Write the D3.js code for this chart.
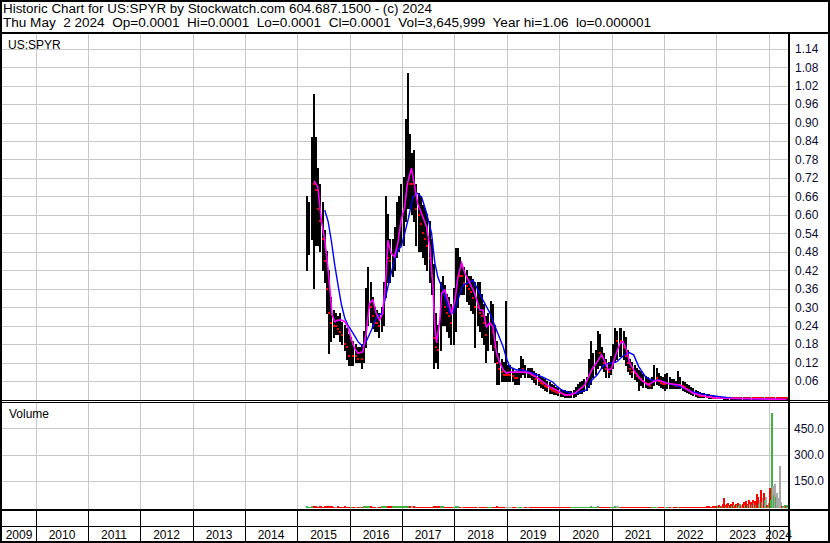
<!DOCTYPE html>
<html><head><meta charset="utf-8">
<script src="https://cdn.jsdelivr.net/npm/d3@7/dist/d3.min.js"></script>
<style>
html,body{margin:0;padding:0;background:#fff;}
svg{display:block;}
text{font-family:"Liberation Sans",Arial,sans-serif;}
</style></head><body>
<svg id="c" width="830" height="543"></svg>
<script>
// ---------------- DATA ----------------
const headerLine1 = "Historic Chart for US:SPYR by Stockwatch.com 604.687.1500 - (c) 2024";
const headerLine2 = "Thu May  2 2024  Op=0.0001  Hi=0.0001  Lo=0.0001  Cl=0.0001  Vol=3,645,999  Year hi=1.06  lo=0.000001";
const symbolLabel = "US:SPYR";
const volumeLabel = "Volume";
const priceTicks = [0.06,0.12,0.18,0.24,0.30,0.36,0.42,0.48,0.54,0.60,0.66,0.72,0.78,0.84,0.90,0.96,1.02,1.08,1.14];
const volTicks = [150,300,450];
const yearLabels = ["2009","2010","2011","2012","2013","2014","2015","2016","2017","2018","2019","2020","2021","2022","2023","2024"];

const dates = [
"2015-03-01","2015-03-16","2015-04-01","2015-04-16","2015-05-01","2015-05-16","2015-06-01","2015-06-16","2015-07-01","2015-07-16","2015-08-01","2015-08-16","2015-09-01","2015-09-16","2015-10-01","2015-10-16","2015-11-01","2015-11-16","2015-12-01","2015-12-16",
"2016-01-01","2016-01-16","2016-02-01","2016-02-16","2016-03-01","2016-03-16","2016-04-01","2016-04-16","2016-05-01","2016-05-16","2016-06-01","2016-06-16","2016-07-01","2016-07-16","2016-08-01","2016-08-16","2016-09-01","2016-09-16","2016-10-01","2016-10-16","2016-11-01","2016-11-16","2016-12-01","2016-12-16",
"2017-01-01","2017-01-16","2017-02-01","2017-02-16","2017-03-01","2017-03-16","2017-04-01","2017-04-16","2017-05-01","2017-05-16","2017-06-01","2017-06-16","2017-07-01","2017-07-16","2017-08-01","2017-08-16","2017-09-01","2017-09-16","2017-10-01","2017-10-16","2017-11-01","2017-11-16","2017-12-01","2017-12-16",
"2018-01-01","2018-01-16","2018-02-01","2018-02-16","2018-03-01","2018-03-16","2018-04-01","2018-04-16","2018-05-01","2018-05-16","2018-06-01","2018-06-16","2018-07-01","2018-07-16","2018-08-01","2018-08-16","2018-09-01","2018-09-16","2018-10-01","2018-10-16","2018-11-01","2018-11-16","2018-12-01","2018-12-16",
"2019-01-01","2019-01-16","2019-02-01","2019-02-16","2019-03-01","2019-03-16","2019-04-01","2019-04-16","2019-05-01","2019-05-16","2019-06-01","2019-06-16","2019-07-01","2019-07-16","2019-08-01","2019-08-16","2019-09-01","2019-09-16","2019-10-01","2019-10-16","2019-11-01","2019-11-16","2019-12-01","2019-12-16",
"2020-01-01","2020-01-16","2020-02-01","2020-02-16","2020-03-01","2020-03-16","2020-04-01","2020-04-16","2020-05-01","2020-05-16","2020-06-01","2020-06-16","2020-07-01","2020-07-16","2020-08-01","2020-08-16","2020-09-01","2020-09-16","2020-10-01","2020-10-16","2020-11-01","2020-11-16","2020-12-01","2020-12-16",
"2021-01-01","2021-01-16","2021-02-01","2021-02-16","2021-03-01","2021-03-16","2021-04-01","2021-04-16","2021-05-01","2021-05-16","2021-06-01","2021-06-16","2021-07-01","2021-07-16","2021-08-01","2021-08-16","2021-09-01","2021-09-16","2021-10-01","2021-10-16","2021-11-01","2021-11-16","2021-12-01","2021-12-16",
"2022-01-01","2022-01-16","2022-02-01","2022-02-16","2022-03-01","2022-03-16","2022-04-01","2022-04-16","2022-05-01","2022-05-16","2022-06-01","2022-06-16","2022-07-01","2022-07-16","2022-08-01","2022-08-16","2022-09-01","2022-09-16","2022-10-01","2022-10-16","2022-11-01","2022-11-16","2022-12-01","2022-12-16",
"2023-01-01","2023-01-16","2023-02-01","2023-02-16","2023-03-01","2023-03-16","2023-04-01","2023-04-16","2023-05-01","2023-05-16","2023-06-01","2023-06-16","2023-07-01","2023-07-16","2023-08-01","2023-08-16","2023-09-01","2023-09-16","2023-10-01","2023-10-16","2023-11-01","2023-11-16","2023-12-01","2023-12-16",
"2024-01-01","2024-01-16","2024-02-01","2024-02-16","2024-03-01","2024-03-16","2024-04-01","2024-04-16","2024-05-01"];

const high = [
0.66,0.64,0.85,0.99,0.85,0.75,0.70,0.64,0.55,0.48,0.42,0.33,0.29,0.28,0.27,0.28,0.25,0.24,0.23,0.21,
0.20,0.19,0.18,0.17,0.17,0.18,0.22,0.36,0.43,0.38,0.33,0.30,0.29,0.28,0.30,0.38,0.66,0.60,0.52,0.52,0.56,0.64,0.66,0.70,
0.72,0.91,1.06,0.86,0.80,0.81,0.70,0.67,0.66,0.63,0.62,0.60,0.58,0.52,0.44,0.28,0.24,0.38,0.40,0.37,0.34,0.33,0.31,0.36,
0.49,0.49,0.46,0.44,0.43,0.42,0.40,0.40,0.39,0.38,0.38,0.38,0.34,0.31,0.27,0.28,0.32,0.31,0.24,0.19,0.15,0.13,0.12,0.32,
0.11,0.11,0.10,0.09,0.09,0.10,0.14,0.13,0.11,0.10,0.10,0.10,0.09,0.085,0.08,0.075,0.07,0.065,0.06,0.055,0.05,0.045,0.04,0.035,
0.032,0.03,0.028,0.026,0.025,0.025,0.03,0.04,0.05,0.055,0.06,0.065,0.07,0.13,0.19,0.15,0.16,0.22,0.21,0.17,0.15,0.13,0.12,0.14,
0.18,0.23,0.22,0.23,0.23,0.22,0.20,0.16,0.13,0.12,0.11,0.10,0.095,0.09,0.08,0.075,0.07,0.065,0.07,0.11,0.10,0.085,0.075,0.07,
0.08,0.085,0.07,0.065,0.065,0.06,0.09,0.07,0.06,0.055,0.05,0.045,0.04,0.035,0.03,0.026,0.022,0.02,0.018,0.016,0.015,0.013,0.012,0.011,
0.010,0.009,0.008,0.007,0.006,0.006,0.005,0.005,0.004,0.004,0.0035,0.003,0.003,0.0025,0.002,0.002,0.0018,0.0015,0.0012,0.001,0.001,0.0008,0.0006,0.0005,
0.0003,0.0002,0.0002,0.0001,0.0001,0.0001,0.0001,0.0001,0.0001];

const low = [
0.42,0.47,0.52,0.36,0.50,0.50,0.48,0.42,0.38,0.28,0.15,0.19,0.20,0.21,0.21,0.19,0.18,0.16,0.13,0.11,
0.11,0.11,0.12,0.12,0.12,0.10,0.12,0.17,0.24,0.25,0.23,0.22,0.22,0.20,0.22,0.24,0.33,0.38,0.38,0.40,0.42,0.46,0.48,0.50,
0.50,0.58,0.62,0.62,0.60,0.58,0.50,0.48,0.48,0.46,0.44,0.42,0.38,0.34,0.10,0.12,0.10,0.16,0.24,0.24,0.22,0.20,0.18,0.18,
0.22,0.30,0.34,0.34,0.34,0.32,0.31,0.29,0.28,0.17,0.24,0.22,0.20,0.18,0.12,0.16,0.18,0.16,0.12,0.05,0.05,0.06,0.06,0.06,
0.06,0.06,0.06,0.05,0.05,0.05,0.07,0.08,0.07,0.07,0.07,0.065,0.055,0.05,0.045,0.04,0.035,0.03,0.025,0.02,0.02,0.015,0.015,0.012,
0.01,0.01,0.008,0.007,0.006,0.006,0.008,0.01,0.015,0.02,0.02,0.025,0.03,0.04,0.05,0.07,0.08,0.10,0.11,0.10,0.09,0.07,0.07,0.08,
0.10,0.12,0.13,0.14,0.14,0.13,0.11,0.09,0.08,0.07,0.065,0.06,0.03,0.045,0.04,0.04,0.035,0.035,0.035,0.045,0.05,0.045,0.04,0.035,
0.03,0.035,0.035,0.035,0.035,0.035,0.035,0.035,0.03,0.025,0.022,0.02,0.016,0.013,0.01,0.008,0.007,0.006,0.005,0.005,0.004,0.004,0.003,0.003,
0.002,0.002,0.002,0.0015,0.0015,0.001,0.001,0.001,0.001,0.0008,0.0008,0.0006,0.0005,0.0005,0.0004,0.0003,0.0003,0.0002,0.0002,0.0001,0.0001,0.0001,0.0001,0.0001,
0.0001,0.0001,0.0001,0.0001,0.0001,0.0001,0.0001,0.0001,0.0001];

const close = [
0.58,0.60,0.78,0.70,0.68,0.62,0.58,0.52,0.45,0.36,0.28,0.25,0.24,0.24,0.23,0.22,0.21,0.18,0.17,0.14,
0.15,0.14,0.14,0.13,0.14,0.13,0.19,0.30,0.33,0.30,0.27,0.25,0.25,0.24,0.27,0.34,0.50,0.46,0.45,0.47,0.50,0.54,0.58,0.62,
0.66,0.80,0.84,0.70,0.70,0.66,0.62,0.60,0.57,0.54,0.52,0.50,0.46,0.40,0.20,0.17,0.16,0.32,0.33,0.30,0.28,0.27,0.25,0.28,
0.40,0.42,0.40,0.40,0.38,0.37,0.36,0.35,0.33,0.30,0.30,0.28,0.27,0.25,0.21,0.23,0.25,0.22,0.17,0.12,0.10,0.09,0.08,0.08,
0.08,0.08,0.075,0.07,0.07,0.08,0.10,0.10,0.09,0.09,0.085,0.08,0.075,0.065,0.06,0.055,0.05,0.045,0.04,0.035,0.03,0.028,0.025,0.022,
0.02,0.018,0.016,0.015,0.014,0.015,0.018,0.025,0.03,0.035,0.04,0.045,0.05,0.08,0.11,0.12,0.13,0.16,0.15,0.14,0.12,0.10,0.09,0.11,
0.15,0.19,0.19,0.20,0.19,0.17,0.14,0.12,0.10,0.09,0.085,0.075,0.07,0.065,0.06,0.055,0.05,0.045,0.05,0.07,0.07,0.06,0.055,0.05,
0.05,0.055,0.05,0.05,0.048,0.045,0.05,0.048,0.045,0.04,0.035,0.03,0.026,0.022,0.018,0.015,0.012,0.011,0.01,0.009,0.008,0.007,0.006,0.005,
0.004,0.004,0.003,0.003,0.003,0.0025,0.002,0.002,0.002,0.0015,0.0015,0.0012,0.001,0.001,0.0008,0.0007,0.0006,0.0005,0.0004,0.0003,0.0003,0.0002,0.0002,0.0002,
0.0001,0.0001,0.0001,0.0001,0.0001,0.0001,0.0001,0.0001,0.0001];

// short moving average (magenta)
const maShortDates = ["2015-04-24","2015-05-21","2015-06-15","2015-07-08","2015-08-01","2015-08-19","2015-08-28","2015-09-16","2015-10-09","2015-11-02","2015-11-25","2015-12-17","2016-01-10","2016-02-02","2016-02-25","2016-03-30","2016-04-22","2016-05-16","2016-06-08","2016-07-01","2016-07-24","2016-08-16","2016-09-09","2016-09-21","2016-10-13","2016-11-06","2016-11-29","2016-12-22","2017-01-16","2017-02-03","2017-03-04","2017-03-27","2017-04-17","2017-05-22","2017-06-17","2017-07-10","2017-08-01","2017-08-14","2017-08-26","2017-09-18","2017-10-01","2017-10-23","2017-11-13","2017-12-09","2018-01-02","2018-01-22","2018-02-17","2018-03-11","2018-04-15","2018-05-19","2018-06-24","2018-07-16","2018-08-09","2018-09-02","2018-09-23","2018-10-18","2018-11-11","2018-12-04","2018-12-27","2019-01-19","2019-03-06","2019-04-19","2019-06-07","2019-07-23","2019-09-06","2019-10-25","2019-12-11","2020-02-08","2020-03-13","2020-04-16","2020-06-25","2020-08-12","2020-09-27","2020-10-20","2020-11-13","2020-12-06","2020-12-29","2021-01-22","2021-02-26","2021-03-19","2021-04-12","2021-05-05","2021-06-09","2021-07-25","2021-09-10","2021-10-15","2021-11-19","2022-01-18","2022-04-20","2022-07-20","2022-10-21","2023-01-24","2024-05-02"];
const maShort = [0.71,0.69,0.58,0.52,0.42,0.33,0.275,0.253,0.258,0.258,0.253,0.235,0.195,0.165,0.15,0.155,0.215,0.313,0.323,0.28,0.258,0.28,0.41,0.518,0.475,0.464,0.508,0.583,0.627,0.70,0.752,0.69,0.636,0.594,0.562,0.496,0.366,0.236,0.184,0.258,0.346,0.356,0.323,0.281,0.323,0.398,0.444,0.411,0.378,0.346,0.291,0.291,0.236,0.249,0.236,0.151,0.119,0.096,0.086,0.089,0.089,0.089,0.086,0.073,0.057,0.041,0.031,0.015,0.015,0.02,0.047,0.096,0.128,0.145,0.123,0.096,0.10,0.139,0.183,0.188,0.161,0.118,0.09,0.063,0.047,0.058,0.063,0.053,0.047,0.02,0.009,0.004,0.0001];

// long moving average (blue)
const maLongDates = ["2015-07-08","2015-08-01","2015-08-24","2015-09-16","2015-10-09","2015-11-02","2015-11-25","2015-12-17","2016-01-22","2016-02-25","2016-03-30","2016-04-22","2016-05-29","2016-07-01","2016-08-07","2016-08-31","2016-09-21","2016-10-13","2016-11-06","2016-11-29","2016-12-22","2017-01-16","2017-02-08","2017-03-14","2017-04-11","2017-05-14","2017-06-17","2017-07-22","2017-08-14","2017-09-04","2017-10-01","2017-11-04","2017-11-27","2017-12-21","2018-01-22","2018-02-26","2018-04-15","2018-05-08","2018-05-31","2018-07-16","2018-09-02","2018-10-18","2018-12-04","2018-12-27","2019-01-19","2019-03-06","2019-04-21","2019-06-27","2019-09-06","2019-11-14","2019-12-19","2020-01-14","2020-03-24","2020-04-28","2020-07-06","2020-08-12","2020-09-20","2020-11-03","2020-12-20","2021-02-04","2021-03-12","2021-04-27","2021-06-01","2021-07-06","2021-08-22","2021-10-07","2021-11-23","2022-01-18","2022-04-20","2022-07-20","2022-10-21","2023-01-24","2023-04-26","2024-05-02"];
const maLong = [0.616,0.578,0.513,0.437,0.372,0.307,0.264,0.242,0.215,0.188,0.172,0.188,0.226,0.264,0.28,0.323,0.366,0.41,0.453,0.486,0.497,0.54,0.583,0.658,0.671,0.658,0.606,0.541,0.444,0.398,0.366,0.314,0.281,0.281,0.323,0.372,0.382,0.388,0.366,0.323,0.281,0.226,0.171,0.133,0.106,0.096,0.096,0.086,0.073,0.057,0.041,0.031,0.02,0.02,0.031,0.063,0.08,0.112,0.118,0.123,0.139,0.153,0.145,0.107,0.074,0.062,0.062,0.053,0.042,0.025,0.015,0.009,0.004,0.0005];

// volume 2015-03 .. 2022-12, aligned with dates
const volEarly = [
6,5,7,8,6,5,6,5,6,7,8,6,5,5,6,5,5,6,5,5,
5,5,4,5,5,5,6,8,7,6,5,5,5,5,6,7,9,7,6,6,6,7,7,6,
7,8,9,7,6,6,5,5,5,5,5,5,5,5,8,6,6,7,6,5,5,5,5,5,
6,6,5,5,5,5,5,5,5,5,5,5,5,5,5,5,5,5,5,6,5,5,5,5,
5,4,4,4,4,4,5,4,4,4,4,4,4,4,4,4,4,4,4,4,4,4,4,4,
4,4,4,4,4,4,4,4,4,4,4,4,4,5,6,5,5,6,5,5,4,4,4,4,
5,6,6,5,5,5,5,4,4,4,4,4,4,4,4,4,4,4,4,5,5,4,4,4,
4,5,4,4,4,4,5,4,4,4,4,5,4,4,4,4,4,5,4,6,8,5,6,7];

// volume 2023-2024, weekly
const volRecentDates = ["2023-01-05","2023-01-12","2023-01-19","2023-01-26","2023-02-02","2023-02-09","2023-02-16","2023-02-23","2023-03-02","2023-03-09","2023-03-16","2023-03-23","2023-03-30","2023-04-06","2023-04-13","2023-04-20","2023-04-27","2023-05-04","2023-05-11","2023-05-18","2023-05-25","2023-06-01","2023-06-08","2023-06-15","2023-06-22","2023-06-29","2023-07-06","2023-07-13","2023-07-20","2023-07-27","2023-08-03","2023-08-10","2023-08-17","2023-08-24","2023-08-31","2023-09-07","2023-09-14","2023-09-21","2023-09-28","2023-10-05","2023-10-12","2023-10-19","2023-10-26","2023-11-02","2023-11-09","2023-11-16","2023-11-23","2023-11-30","2023-12-07","2023-12-14","2023-12-21","2023-12-28","2024-01-04","2024-01-11","2024-01-18","2024-01-25","2024-02-01","2024-02-08","2024-02-15","2024-02-22","2024-03-01","2024-03-08","2024-03-15","2024-03-22","2024-03-29","2024-04-05","2024-04-12","2024-04-19","2024-04-26","2024-05-02"];
const volRecent = [8,12,5,10,6,20,55,15,8,18,25,10,12,22,8,30,15,10,20,12,25,8,18,10,15,22,30,14,35,20,12,40,18,30,12,45,25,38,15,75,60,20,45,100,30,55,80,40,62,15,8,25,110,45,535,125,70,135,60,80,55,236,30,10,8,5,12,6,14,5];
const volRecentDir = ["g","r","g","r","g","r","r","r","g","r","r","g","r","r","g","r","g","r","r","g","r","n","g","r","n","r","r","g","r","r","g","r","n","r","g","r","n","r","g","r","r","g","n","r","g","n","r","g","n","r","g","g","r","g","g","n","g","n","g","n","n","n","n","r","g","n","g","r","g","g"];

// ---------------- DRAW ----------------
const parse = d3.timeParse("%Y-%m-%d");
const svg = d3.select("#c");
const W = 830, H = 543;
const PL = 2, PR = 788;            // plot left / right
const PT = 34, PB = 400;           // price panel top / bottom
const VT = 403, VB = 509;          // volume panel

const x = d3.scaleTime()
  .domain([parse("2010-01-01"), parse("2024-01-01")])
  .range([36, 769]);
const yP = d3.scaleLinear().domain([0, 1.2]).range([399.5, 399.5 - 1.2 * 307.7]);
const yV = d3.scaleLinear().domain([0, 450]).range([507.5, 428.3]);

svg.append("rect").attr("width", W).attr("height", H).attr("fill", "#fff");

const defs = svg.append("defs");
defs.append("clipPath").attr("id", "cp").append("rect")
  .attr("x", PL).attr("y", PT).attr("width", PR - PL).attr("height", PB - PT);
defs.append("clipPath").attr("id", "cv").append("rect")
  .attr("x", PL).attr("y", VT).attr("width", PR - PL).attr("height", VB - VT);

// grid
const gridColor = "#c8c8c8";
const yearBounds = d3.timeYears(parse("2010-01-01"), parse("2024-01-02")).map(d => Math.floor(x(d)) + 0.5);
const grid = svg.append("g").attr("stroke", gridColor).attr("stroke-width", 1).attr("shape-rendering", "crispEdges");
priceTicks.forEach(t => {
  const yy = Math.round(yP(t)) + 0.5;
  grid.append("line").attr("x1", PL).attr("x2", PR).attr("y1", yy).attr("y2", yy);
});
volTicks.forEach(t => {
  const yy = Math.round(yV(t)) + 0.5;
  grid.append("line").attr("x1", PL).attr("x2", PR).attr("y1", yy).attr("y2", yy);
});
yearBounds.forEach(xx => {
  grid.append("line").attr("x1", xx).attr("x2", xx).attr("y1", PT).attr("y2", PB);
  grid.append("line").attr("x1", xx).attr("x2", xx).attr("y1", VT).attr("y2", VB);
});

// price bars
const pd = dates.map((d, i) => ({ d: parse(d), h: high[i], l: low[i], c: close[i], i }));
const px = pd.map(p => Math.round(x(p.d)));
const pg = svg.append("g").attr("clip-path", "url(#cp)").attr("shape-rendering", "crispEdges");
pg.selectAll("rect.bar").data(pd).join("rect").attr("class", "bar")
  .attr("x", (p, i) => px[i])
  .attr("width", 2)
  .attr("y", p => Math.floor(yP(p.h)))
  .attr("height", p => Math.max(1, Math.ceil(yP(p.l)) - Math.floor(yP(p.h))))
  .attr("fill", "#000");
pg.selectAll("rect.cl").data(pd.filter(p => p.i > 0 && p.c <= close[p.i - 1])).join("rect").attr("class", "cl")
  .attr("x", p => px[p.i])
  .attr("width", 2).attr("height", 2)
  .attr("y", p => Math.min(Math.round(yP(p.c)) - 1, 397))
  .attr("fill", "#ff0000");

// moving averages
const line = d3.line().x(d => x(d[0])).y(d => yP(d[1]));
const lg = svg.append("g").attr("clip-path", "url(#cp)").attr("fill", "none");
lg.append("path").datum(maLongDates.map((d, i) => [parse(d), maLong[i]]))
  .attr("d", line).attr("stroke", "#0000ff").attr("stroke-width", 1.4);
lg.append("path").datum(maShortDates.map((d, i) => [parse(d), maShort[i]]))
  .attr("d", line).attr("stroke", "#ff00ff").attr("stroke-width", 1.6);

// volume
const vColor = { r: "#ff0000", g: "#44b044", n: "#a8a8a8" };
const vg = svg.append("g").attr("clip-path", "url(#cv)").attr("shape-rendering", "crispEdges");
const early = volEarly.map((v, i) => ({ x: px[i], w: Math.max(1, px[i + 1] - px[i]), v,
  dir: i === 0 ? "g" : (close[i] > close[i - 1] ? "g" : (close[i] < close[i - 1] ? "r" : "n")) }));
const recent = volRecent.map((v, i) => ({ x: Math.round(x(parse(volRecentDates[i]))), w: 2, v, dir: volRecentDir[i] }));
vg.selectAll("rect").data(early.concat(recent)).join("rect")
  .attr("x", d => d.x).attr("width", d => d.w)
  .attr("y", d => Math.min(Math.round(yV(d.v)), Math.round(yV(0)) - 1))
  .attr("height", d => Math.max(1, Math.round(yV(0)) - Math.round(yV(d.v))))
  .attr("fill", d => vColor[d.dir]);

// frame lines
const blk = svg.append("g").attr("fill", "#000").attr("shape-rendering", "crispEdges");
blk.append("rect").attr("x", 0).attr("y", 0).attr("width", W).attr("height", 2);
blk.append("rect").attr("x", 0).attr("y", 0).attr("width", 2).attr("height", H);
blk.append("rect").attr("x", W - 2).attr("y", 0).attr("width", 2).attr("height", H);
blk.append("rect").attr("x", 0).attr("y", H - 2).attr("width", W).attr("height", 2);
blk.append("rect").attr("x", 0).attr("y", 32).attr("width", W).attr("height", 2);
blk.append("rect").attr("x", PR).attr("y", 32).attr("width", 2).attr("height", H - 32);
blk.append("rect").attr("x", 0).attr("y", 400).attr("width", W).attr("height", 1);
blk.append("rect").attr("x", 0).attr("y", 402).attr("width", W).attr("height", 1);
blk.append("rect").attr("x", 0).attr("y", 509).attr("width", W).attr("height", 2);
blk.append("rect").attr("x", 0).attr("y", 526).attr("width", PR).attr("height", 1);
yearBounds.forEach(xx => {
  blk.append("rect").attr("x", xx - 0.5).attr("y", 511).attr("width", 1).attr("height", H - 513);
});

// header
svg.append("text").attr("x", 3).attr("y", 13).attr("font-size", 12)
  .attr("textLength", 429).attr("lengthAdjust", "spacingAndGlyphs")
  .style("white-space", "pre").text(headerLine1);
svg.append("text").attr("x", 3).attr("y", 27).attr("font-size", 12)
  .attr("textLength", 648).attr("lengthAdjust", "spacingAndGlyphs")
  .style("white-space", "pre").text(headerLine2);

svg.append("text").attr("x", 8).attr("y", 48.5).attr("font-size", 12).text(symbolLabel);
svg.append("text").attr("x", 9).attr("y", 417.5).attr("font-size", 12).text(volumeLabel);

// right axes
const axP = svg.append("g").attr("transform", "translate(795,0)")
  .call(d3.axisRight(yP).tickValues(priceTicks).tickFormat(d3.format(".2f")).tickSize(0).tickPadding(0));
axP.select(".domain").remove();
axP.selectAll("text").attr("font-size", 12).attr("fill", "#0a0a30").attr("font-family", '"Liberation Sans",Arial,sans-serif');
const axV = svg.append("g").attr("transform", "translate(794,0)")
  .call(d3.axisRight(yV).tickValues(volTicks).tickFormat(d3.format(".1f")).tickSize(0).tickPadding(0));
axV.select(".domain").remove();
axV.selectAll("text").attr("font-size", 12).attr("fill", "#0a0a30").attr("font-family", '"Liberation Sans",Arial,sans-serif');

// year labels
const cellEdges = [PL].concat(yearBounds.map(v => v - 0.5)).concat([PR]);
svg.append("g").selectAll("text").data(yearLabels).join("text")
  .attr("x", (d, i) => (cellEdges[i] + cellEdges[i + 1]) / 2)
  .attr("y", 539).attr("text-anchor", "middle").attr("font-size", 12)
  .text(d => d);
</script>
</body></html>
